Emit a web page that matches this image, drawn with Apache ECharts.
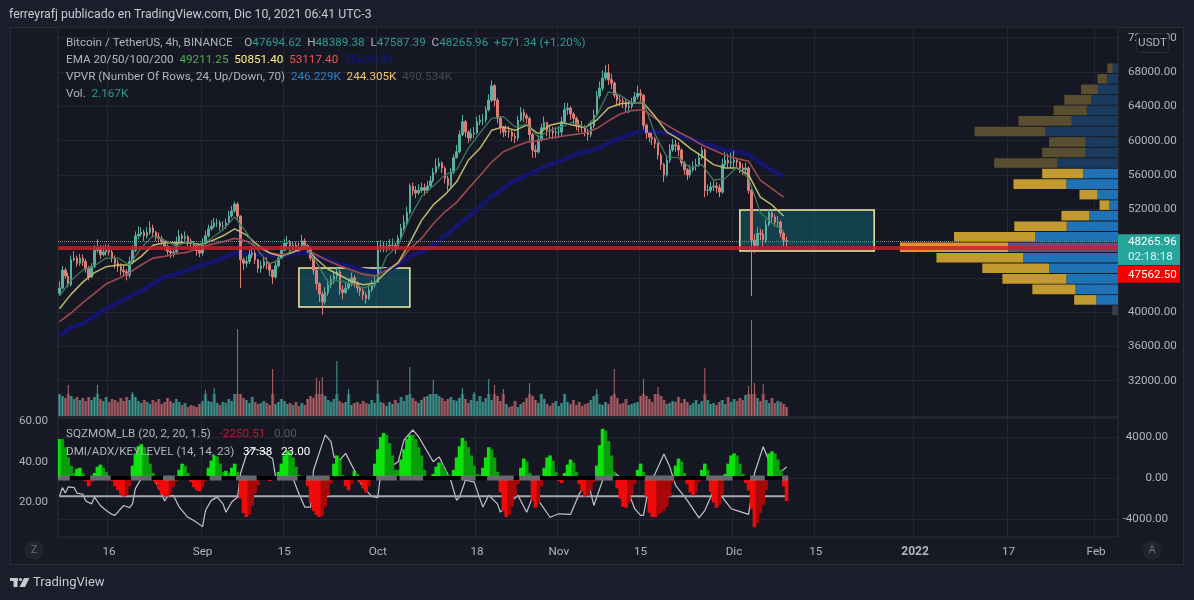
<!DOCTYPE html>
<html><head><meta charset="utf-8">
<style>html,body{margin:0;padding:0;background:#1a1e2b}#c{width:1194px;height:600px;filter:blur(0.35px)}</style>
<script src="https://cdn.jsdelivr.net/npm/echarts@6/dist/echarts.min.js"></script>
</head><body><div id="c"></div>
<script>
const FONT = 'Roboto';
const totalBars = 363;
const startDate = Date.UTC(2021,7,7,12);
const tickLabels = {17:'16',49:'Sep',77:'15',109:'Oct',143:'18',171:'Nov',199:'15',231:'Dic',259:'15',293:'2022',325:'17',355:'Feb'};
const priceTicks = [32000,36000,40000,44000,48000,52000,56000,60000,64000,68000,72000];
const closes = [
42.8,44.9,44.2,43.2,46.1,46.3,45.7,46.3,45.9,45.1,
44.1,45.3,47.2,47.5,46.7,47.0,47.2,47.0,46.3,45.7,
45.3,44.9,44.7,44.3,45.9,47.2,48.9,49.1,49.3,48.9,
49.3,49.8,49.3,48.8,48.6,48.3,47.7,47.1,46.9,47.0,
48.2,48.9,48.6,48.8,48.3,48.0,47.7,47.2,46.9,48.0,
48.9,49.7,50.0,50.4,50.4,50.0,50.0,50.4,51.2,51.8,
52.6,51.2,46.1,45.7,45.9,46.7,46.9,46.1,45.1,45.4,
45.9,45.7,44.9,44.1,45.4,46.3,47.2,48.0,48.1,47.7,
47.8,47.6,47.5,48.3,47.8,47.5,46.3,44.9,43.3,42.1,
41.2,42.3,43.2,43.8,44.2,44.7,42.6,42.3,42.8,43.3,
44.0,43.4,42.8,42.5,42.0,41.6,42.6,43.2,43.5,47.7,
47.7,47.6,47.6,47.8,47.8,47.5,48.6,49.8,50.5,51.6,
54.7,54.2,53.9,54.2,54.5,54.2,54.7,55.3,56.3,57.0,
57.4,56.8,55.6,54.8,56.3,58.0,58.7,60.7,62.2,61.0,
60.3,60.8,60.9,62.2,62.4,62.4,63.6,64.7,66.4,64.7,
62.6,61.5,61.0,61.1,61.0,60.5,60.3,62.4,63.3,62.9,
62.6,60.7,58.9,58.7,60.1,61.5,62.1,61.2,61.1,60.9,
61.0,61.0,62.2,63.6,63.8,63.1,62.6,61.8,61.7,61.6,
61.0,60.7,61.7,63.0,65.2,66.1,67.3,67.9,67.1,66.7,
65.3,64.7,64.6,64.5,63.9,64.0,64.4,65.1,65.5,65.3,
61.8,60.9,60.4,60.2,59.7,58.3,57.2,56.0,57.7,58.9,
59.5,59.4,58.9,57.4,56.6,56.0,56.6,57.0,57.2,58.0,
58.9,54.2,54.2,54.6,54.7,54.5,54.0,57.2,57.7,57.4,
57.5,57.7,57.5,56.8,56.6,56.8,54.2,48.4,47.8,49.2,
49.1,48.4,50.2,51.6,51.1,50.5,50.5,49.2,48.4,48.266];
const highs = [
43.6,45.4,45.2,44.6,46.6,47.1,46.6,46.8,46.7,46.2,
45.4,45.7,47.8,48.5,47.8,47.8,47.9,47.9,47.3,46.6,
46.1,45.7,45.4,45.0,46.5,47.8,49.4,50.0,49.9,49.6,
49.9,50.6,50.2,49.5,49.3,48.9,48.4,47.9,47.5,47.5,
48.8,49.6,49.2,49.4,49.0,48.6,48.3,47.9,47.6,48.6,
49.5,50.2,50.7,51.0,50.9,50.7,50.6,50.9,51.8,52.4,
52.9,52.8,51.3,46.4,46.5,47.3,47.6,47.2,46.2,46.0,
46.5,46.4,45.8,45.0,45.9,46.8,47.8,48.5,48.9,48.4,
48.3,48.2,48.1,49.0,48.6,47.9,47.6,46.4,45.2,43.5,
42.4,42.9,43.8,44.3,44.8,45.3,44.9,43.1,43.4,43.9,
44.6,44.3,43.6,43.1,42.7,42.3,43.2,43.7,44.2,48.3,
48.4,48.2,48.1,48.5,48.6,48.1,49.0,50.3,51.3,52.3,
55.0,55.1,54.7,54.9,55.1,55.0,55.3,55.9,56.8,57.9,
58.0,57.6,57.0,55.9,56.8,58.4,59.5,61.2,63.0,62.4,
61.2,61.4,61.6,62.8,63.0,63.1,64.0,65.4,67.0,66.6,
65.0,62.9,61.7,61.8,61.7,61.3,60.9,62.9,63.9,63.7,
63.2,62.8,60.9,59.5,60.6,62.0,62.8,62.2,61.8,61.6,
61.6,61.7,62.8,64.4,64.4,64.0,63.3,62.8,62.4,62.3,
61.8,61.4,62.3,63.6,65.8,66.9,68.2,68.8,68.9,67.8,
66.9,65.6,65.3,65.0,64.8,64.7,65.0,65.7,66.4,66.0,
65.4,62.0,61.0,60.9,60.4,59.8,58.6,57.4,58.3,59.6,
60.2,60.1,59.8,59.1,57.6,56.8,57.2,57.6,57.9,58.6,
59.3,59.1,54.9,55.2,55.4,55.2,54.9,57.9,58.7,58.5,
58.6,58.8,58.0,57.6,57.3,57.4,57.0,54.4,49.1,49.9,
49.7,49.6,50.8,52.0,52.0,51.4,51.2,50.7,49.4,48.8];
const lows = [
41.9,42.7,43.9,42.9,43.0,45.9,45.3,45.4,45.4,44.6,
43.7,44.0,45.1,46.9,46.2,46.5,46.6,46.6,45.8,45.1,
44.7,44.3,44.1,43.7,44.0,45.6,47.0,48.5,48.8,48.3,
48.6,49.0,48.7,48.3,48.1,47.8,47.2,46.6,46.3,46.4,
46.8,48.0,48.0,48.2,47.7,47.5,47.2,46.6,46.4,46.6,
47.8,48.7,49.5,49.8,49.9,49.5,49.5,49.7,50.2,51.0,
51.6,50.8,42.8,44.9,45.2,45.6,46.3,45.6,44.6,44.6,
45.1,45.0,44.2,43.3,43.9,45.2,46.2,47.1,47.6,47.1,
47.2,47.1,47.0,47.3,47.3,46.9,46.0,44.4,42.6,41.2,
39.7,40.9,41.9,42.8,43.3,43.8,42.0,41.5,42.1,42.6,
43.0,42.9,42.3,41.9,41.4,41.0,41.4,42.3,42.9,43.4,
47.0,47.0,47.0,47.2,47.2,46.8,47.3,48.5,49.5,50.2,
51.4,53.6,53.3,53.7,53.9,53.6,53.9,54.5,55.1,56.1,
56.7,56.2,55.0,54.2,54.5,56.1,57.9,58.5,60.5,60.4,
59.7,60.0,60.3,60.7,61.8,61.8,62.1,63.4,64.5,64.0,
62.0,60.8,60.4,60.5,60.3,59.9,59.7,60.0,62.2,62.2,
62.0,60.0,58.0,58.0,58.5,59.9,61.3,60.5,60.3,60.2,
60.2,60.3,60.5,62.0,63.0,62.4,61.9,61.2,61.0,61.0,
60.5,60.0,60.4,61.4,62.8,64.9,65.8,67.0,66.5,66.0,
65.0,64.0,64.0,63.8,63.3,63.2,63.7,64.3,64.8,64.6,
61.3,60.2,59.8,59.5,59.1,57.8,56.6,55.2,55.8,57.4,
58.7,58.7,58.2,57.0,56.0,55.4,55.7,56.3,56.5,57.0,
57.8,53.4,53.6,53.9,54.1,53.9,53.4,53.8,56.9,56.8,
56.8,56.9,56.9,56.2,56.0,56.1,53.8,41.9,46.9,47.4,
48.4,47.6,48.1,50.0,50.5,50.0,49.9,48.7,47.7,47.6];
const firstOpen = 42.2;
const volumes = [
2.2,2.0,1.8,3.1,2.0,1.7,1.9,1.6,1.8,1.5,
1.9,1.6,1.9,3.1,1.7,1.5,1.9,1.4,1.7,1.6,
1.4,1.8,1.5,1.9,1.6,2.4,1.9,1.5,1.3,1.6,
1.4,1.2,1.6,1.4,1.7,1.2,1.4,1.8,1.5,1.3,
1.7,1.4,1.1,1.3,0.9,1.1,1.0,0.9,1.2,1.5,
2.6,1.5,1.4,2.8,1.3,1.1,1.4,1.3,1.7,1.5,
2.2,8.7,2.2,1.8,1.6,1.3,1.9,1.4,1.2,1.3,
1.5,1.3,1.1,4.7,1.2,1.4,1.7,1.5,1.2,1.3,
1.1,1.4,1.0,1.3,1.1,1.7,2.0,1.8,3.8,3.5,
3.9,2.0,1.6,1.4,1.7,5.5,1.5,1.3,1.4,2.7,
1.1,1.3,1.4,1.2,1.5,1.3,1.2,1.6,1.3,3.6,
1.4,1.3,1.0,1.4,1.2,1.6,1.3,1.9,1.5,2.1,
4.9,1.8,1.5,1.3,1.6,1.9,2.0,2.2,3.6,2.2,
2.0,1.8,1.5,1.7,1.9,1.6,1.5,1.8,2.8,1.7,
1.3,1.6,2.4,1.5,2.0,1.4,1.8,3.7,1.6,3.1,
2.0,1.5,2.7,1.2,0.9,1.0,1.5,0.9,1.2,1.4,
1.8,3.3,2.0,1.6,1.3,2.2,1.7,1.2,1.0,1.3,
1.5,1.0,1.3,2.2,1.4,1.2,1.6,1.1,1.4,1.0,
1.2,1.3,1.6,2.0,2.7,1.2,1.1,1.4,1.2,2.0,
4.7,1.8,1.2,1.3,1.7,1.1,1.2,1.3,1.4,2.0,
3.7,2.0,1.7,1.4,2.2,2.9,2.0,1.6,1.2,1.3,
1.5,1.4,1.9,1.3,1.7,1.4,1.1,1.3,1.6,1.2,
1.5,4.8,1.6,1.2,1.3,1.1,1.4,1.6,1.2,1.9,
1.4,1.7,1.5,1.8,1.6,2.1,3.0,9.6,3.3,1.8,
1.5,3.2,1.6,1.3,1.8,1.3,1.5,1.4,1.2,0.9];
const ema20 = [41.9,43.7,44.9,45.4,46.3,46.3,45.5,47.5,48.9,48.4,47.7,48.2,47.7,48.6,49.6,51.1,49.3,47.2,45.6,46.3,47.4,47.7,45.8,43.5,43.7,43.3,42.8,43.3,46.5,47.8,51.0,53.5,54.7,56.0,56.6,59.1,60.9,62.6,62.8,61.6,61.9,60.4,61.2,61.6,62.2,61.5,62.9,65.7,65.3,64.4,64.5,60.7,58.1,58.0,56.8,57.2,55.4,55.6,56.9,55.6,51.6,50.4,49.5];
const ema50 = [40.4,42.1,43.5,44.6,45.3,45.5,45.5,46.5,47.8,48.1,48.1,48.1,47.9,48.3,48.9,49.7,49.0,47.8,46.9,46.5,47.0,47.6,46.2,45.0,44.3,43.6,43.2,43.4,44.7,45.8,48.1,50.7,52.5,53.7,55.2,57.7,59.1,61.2,61.6,61.2,61.8,60.8,61.8,62.1,61.8,61.5,62.4,63.8,64.3,64.4,64.4,62.8,61.0,60.2,59.1,58.2,57.2,56.8,56.8,56.0,53.4,52.5,51.2];
const ema100 = [38.9,39.9,41.1,42.2,43.3,43.9,44.6,45.5,46.3,46.5,46.8,47.0,47.5,47.9,48.2,48.6,48.3,47.5,46.9,46.7,47.0,47.4,46.7,46.0,45.4,44.9,44.4,44.2,44.9,45.7,47.4,48.6,50.3,51.7,52.8,54.4,55.9,57.5,58.7,59.3,59.8,60.0,60.3,60.5,60.7,60.9,61.4,62.3,63.1,63.5,63.6,62.6,61.8,61.0,60.3,59.5,58.9,58.3,57.9,57.6,55.4,54.4,53.4];
const ema200 = [37.3,38.2,38.7,39.5,40.4,41.1,41.8,42.5,43.3,44.1,44.4,44.9,45.4,45.8,46.3,46.9,46.8,46.7,46.7,46.5,46.8,46.9,46.5,46.1,45.6,45.3,44.9,44.7,44.9,45.5,46.5,47.0,47.8,48.9,50.0,51.1,52.3,53.5,54.5,55.3,56.0,56.6,57.2,57.7,58.3,58.7,59.0,59.7,60.3,60.8,61.1,61.0,60.9,60.7,60.2,59.7,59.3,58.9,58.7,58.4,57.4,56.5,55.9];
const emaStepBars = 4;
const vpPrices = [68430,67200,65970,64740,63510,62280,61050,59820,58600,57370,56140,54910,53680,52450,51220,50000,48770,47540,46310,45080,43850,42620,41400,40170];
const vpUp = [1.3,2.6,4.9,6.5,7.6,11.3,17.7,7.9,7.9,14.8,8.5,12.6,5.0,2.1,7.0,12.5,20.2,26.8,23.1,16.8,12.6,10.4,5.3,1.4];
const vpDown = [1.3,2.4,4.1,6.6,8.1,13.0,17.3,8.9,10.6,15.4,10.0,12.9,4.4,2.4,6.8,12.8,19.8,26.4,21.2,16.3,15.6,10.5,5.4,0];
const momentum = [
38,38,30,20,12,5,9,10,5,-3,
-8,-4,5,11,13,10,6,2,-3,-8,
-12,-16,-18,-17,-8,12,24,31,33,30,
24,14,5,-5,-11,-16,-18,-18,-15,-9,
-3,8,14,12,5,-4,-9,-12,-13,-9,
-3,10,17,22,21,14,6,7,5,10,
14,6,-20,-34,-38,-36,-27,-15,-7,-2,
1,1,-3,-2,2,6,14,22,27,26,
20,11,3,0,-2,-8,-24,-32,-36,-38,
-37,-28,-17,-5,14,22,18,3,-8,-12,
-6,7,4,-5,-10,-14,-8,-2,14,28,
40,44,42,34,22,8,8,18,28,38,
42,42,38,30,22,8,2,1,4,11,
15,13,8,3,1,8,20,31,39,36,
30,22,12,4,3,10,20,30,28,20,
6,-14,-32,-38,-36,-28,-18,-6,10,19,
16,5,-22,-29,-24,-8,10,20,22,17,
6,-3,-5,5,13,18,15,6,-6,-13,
-18,-17,-12,-4,12,32,48,46,36,22,
6,-10,-20,-28,-29,-24,-16,-6,8,14,
6,-18,-34,-38,-38,-35,-34,-32,-28,-18,
-4,12,19,16,5,-6,-14,-17,-14,-4,
8,14,8,-14,-24,-29,-26,-16,4,14,
22,24,22,14,4,-5,-12,-30,-48,-44,
-34,-26,-12,24,26,24,18,8,-8,-22.5];
const squeezeRanges = [[0,3],[11,17],[25,31],[36,39],[52,55],[61,67],[75,81],[85,92],[109,115],[117,124],[138,142],[147,155],[158,164],[184,189],[201,210],[222,230],[237,241],[248,249]];
const adxBars = [0,1,2,3,5,6,8,9,11,12,14,16,18,19,21,22,24,25,26,28,30,31,32,34,36,37,39,41,44,46,49,50,52,54,56,57,59,61,62,64,66,70,72,73,74,77,80,82,84,86,87,91,93,94,96,98,101,102,105,107,109,110,116,118,121,123,126,128,130,134,136,137,139,142,145,147,150,151,157,160,162,164,168,171,175,178,181,183,186,187,192,195,197,199,200,202,204,207,209,211,215,219,221,224,227,230,232,236,238,241,244,247,249];
const adxVals = [23.0,27.3,24.6,27.6,27.3,24.6,24.0,20.7,19.3,22.6,18.5,16.0,14.1,13.6,16.9,18.5,17.4,19.3,26.8,31.7,37.5,35.0,31.7,27.9,20.7,23.0,23.5,17.7,12.7,11.1,8.1,16.0,21.0,22.6,19.3,15.2,20.2,22.6,34.2,43.3,46.6,44.9,42.4,41.6,32.5,31.7,31.7,24.3,17.7,17.7,35.8,53.2,49.9,42.4,40.8,44.1,35.8,31.7,25.9,23.0,22.3,34.2,40.0,50.7,55.6,52.3,44.9,40.0,42.4,30.9,21.0,22.6,30.9,30.1,17.7,23.5,19.3,15.2,23.5,15.2,22.6,21.0,12.7,14.4,14.1,24.3,30.1,18.5,30.9,37.5,32.5,24.3,16.9,13.6,13.6,29.2,34.2,43.8,37.5,28.4,21.0,12.4,16.0,25.9,22.6,16.9,16.0,14.1,34.2,47.4,36.7,35.0,37.38];
const keyLevel = 23;
const lastPrice = 48265.96;
const redLevel = 47562.5;
const volBaseCap = 2.2;
const demandZones = [{from:82,to:120,top:45143,bottom:40595},{from:233,to:279,top:51900,bottom:47120}];

const categories = Array.from({length:totalBars},(_,i)=>new Date(startDate+i*43200000).toISOString().slice(0,13));
const opens = closes.map((c,i)=>i===0?firstOpen:closes[i-1]);
const candleData = closes.map((c,i)=>[opens[i]*1000,c*1000,lows[i]*1000,highs[i]*1000]);
const isTick = i => tickLabels[i]!==undefined;
const emaLine = arr => arr.map((v,k)=>[k*emaStepBars,v*1000]);
const grid0 = '#232735', txt = '#b2b5be';
const catAxis = (gridIndex,labels,extra) => Object.assign({
  type:'category',gridIndex,data:categories,boundaryGap:true,
  axisLine:{show:false},axisTick:{show:false},
  splitLine:{show:gridIndex!==1,interval:(i)=>isTick(i),lineStyle:{color:grid0,width:1}},
  axisLabel:{show:labels,interval:(i)=>isTick(i),margin:9,color:txt,fontFamily:FONT,fontSize:11.7,
    formatter:(v,i)=>tickLabels[i]==='2022'?'{b|2022}':(tickLabels[i]||''),rich:{b:{fontWeight:'bold',color:txt,fontFamily:FONT,fontSize:12}}}
},extra||{});
const rowDim = i => i < 10;
const vpUpColor = i => i===23?'#3a3f4a':i===17?'#6a4a80':rowDim(i)?'#1b3b5e':'#1f72b5';
const vpDownColor = i => i===17?'#e8902f':rowDim(i)?'#5a4e30':'#c29a30';
const chart = echarts.init(document.getElementById('c'),null,{renderer:'canvas'});
const LS = 11.7;
const leg = {
  g:{color:txt,fontFamily:FONT,fontSize:LS,lineHeight:14},
  t:{color:'#2f9c8e',fontFamily:FONT,fontSize:LS,lineHeight:14},
  e1:{color:'#4caf50',fontFamily:FONT,fontSize:LS},e2:{color:'#fff176',fontFamily:FONT,fontSize:LS},
  e3:{color:'#ef5350',fontFamily:FONT,fontSize:LS},e4:{color:'#10188c',fontFamily:FONT,fontSize:LS},
  v1:{color:'#2b80cc',fontFamily:FONT,fontSize:LS},v2:{color:'#f5c66b',fontFamily:FONT,fontSize:LS},
  v3:{color:'#45484f',fontFamily:FONT,fontSize:LS},
  r:{color:'#b3202a',fontFamily:FONT,fontSize:LS},d:{color:'#555862',fontFamily:FONT,fontSize:LS},
  w:{color:'#ffffff',fontFamily:FONT,fontSize:LS}
};
const mkTitle = (text,left,top)=>({text,left,top,padding:0,textStyle:{rich:leg,fontFamily:FONT,fontSize:LS,color:txt,fontWeight:'normal'}});
const priceLabel = {color:txt,fontFamily:FONT,fontSize:11.6,padding:[2,0,0,0],formatter:v=>v.toFixed(2)};
chart.setOption({
  animation:false,
  backgroundColor:'#1a1e2b',
  title:[
    {text:'ferreyrafj publicado en TradingView.com, Dic 10, 2021 06:41 UTC-3',left:9,top:9,padding:0,textStyle:{color:'#c8cad2',fontFamily:FONT,fontSize:12.3,fontWeight:'normal'}},
    mkTitle('{g|Bitcoin / TetherUS, 4h, BINANCE    O}{t|47694.62}{g|  H}{t|48389.38}{g|  L}{t|47587.39}{g|  C}{t|48265.96}{t|  +571.34 (+1.20%)}',66,36),
    mkTitle('{g|EMA 20/50/100/200}{e1|  49211.25}{e2|  50851.40}{e3|  53117.40}{e4|  55628.88}',66,53),
    mkTitle('{g|VPVR (Number Of Rows, 24, Up/Down, 70)}{v1|  246.229K}{v2|  244.305K}{v3|  490.534K}',66,70),
    mkTitle('{g|Vol.}{t|  2.167K}',66,87),
    mkTitle('{g|SQZMOM_LB (20, 2, 20, 1.5)}{r|   -2250.51}{d|   0.00}',66,427),
    mkTitle('{g|DMI/ADX/KEYLEVEL (14, 14, 23)}{w|   37.38}{w|   23.00}',66,445)
  ],
  grid:[
    {left:58,width:1060,top:27,height:390,show:true,backgroundColor:'#151823',borderColor:'#2a2e39',borderWidth:1},
    {left:58,width:1060,top:317,height:99},
    {left:58,width:1060,top:63,height:252.7},
    {left:58,width:1060,top:418,height:119,show:true,backgroundColor:'#151823',borderColor:'#2a2e39',borderWidth:1}
  ],
  xAxis:[
    catAxis(0,false),
    catAxis(1,false),
    {type:'value',gridIndex:2,inverse:true,min:0,max:258.6,show:false},
    catAxis(3,true),
    catAxis(1,false,{position:'top'})
  ],
  yAxis:[
    {type:'value',gridIndex:0,position:'right',min:27773,max:73247,
      axisLine:{show:false},axisTick:{show:false,customValues:priceTicks},
      axisLabel:Object.assign({customValues:priceTicks,margin:10},priceLabel),
      splitLine:{show:true,lineStyle:{color:grid0}}},
    {type:'value',gridIndex:1,min:0,max:9.9,show:false,splitLine:{show:false}},
    {type:'category',gridIndex:2,inverse:true,data:vpPrices.map(String),show:false},
    {type:'value',gridIndex:3,position:'left',min:3,max:61.5,
      axisLine:{show:false},axisTick:{show:false,customValues:[20,40,60]},
      axisLabel:Object.assign({customValues:[20,40,60],margin:10},priceLabel),
      splitLine:{show:false}},
    {type:'value',gridIndex:3,position:'right',min:-5750,max:5850,
      axisLine:{show:false},axisTick:{show:false,customValues:[-4000,0,4000]},
      axisLabel:Object.assign({customValues:[-4000,0,4000],margin:50,align:'right'},priceLabel),
      splitLine:{show:true,lineStyle:{color:grid0}}}
  ],
  series:[
    {name:'VPVR up',type:'bar',xAxisIndex:2,yAxisIndex:2,stack:'vp',barWidth:9.6,z:2,silent:true,
      data:vpUp.map((v,i)=>({value:v,itemStyle:{color:vpUpColor(i)}}))},
    {name:'VPVR down',type:'bar',xAxisIndex:2,yAxisIndex:2,stack:'vp',barWidth:9.6,z:2,silent:true,
      data:vpDown.map((v,i)=>({value:v,itemStyle:{color:vpDownColor(i)}}))},
    {name:'Zones',type:'line',xAxisIndex:0,yAxisIndex:0,data:[],z:2,silent:true,
      markArea:{silent:true,itemStyle:{color:'rgba(20,150,170,0.32)',borderColor:'#f2ee9c',borderWidth:1.5},
        data:demandZones.map(z=>[{xAxis:z.from,yAxis:z.top},{xAxis:z.to,yAxis:z.bottom}])}},
    {name:'Vol',type:'bar',xAxisIndex:1,yAxisIndex:1,barWidth:3.4,z:2,silent:true,
      data:volumes.map((v,i)=>({value:Math.min(v,volBaseCap),itemStyle:{color:closes[i]>=opens[i]?'#2a6664':'#74404a'}}))},
    {name:'Vol spikes',type:'bar',xAxisIndex:4,yAxisIndex:1,barWidth:1,z:2,silent:true,
      data:volumes.map((v,i)=>({value:v,itemStyle:{color:closes[i]>=opens[i]?'#4a9a95':'#b0666c'}}))},
    {name:'EMA200',type:'line',xAxisIndex:0,yAxisIndex:0,z:2,showSymbol:false,silent:true,lineStyle:{color:'#14166e',width:4.5},data:emaLine(ema200)},
    {name:'BTC',type:'candlestick',xAxisIndex:0,yAxisIndex:0,barWidth:2,z:3,silent:true,
      itemStyle:{color:'#5aaea0',color0:'#dd7f78',borderColor:'#5aaea0',borderColor0:'#dd7f78',borderWidth:1},
      data:candleData},
    {name:'EMA100',type:'line',xAxisIndex:0,yAxisIndex:0,z:4,showSymbol:false,silent:true,lineStyle:{color:'#9c4a4c',width:1.6},data:emaLine(ema100)},
    {name:'EMA50',type:'line',xAxisIndex:0,yAxisIndex:0,z:4,showSymbol:false,silent:true,lineStyle:{color:'#bdb868',width:1.5},data:emaLine(ema50)},
    {name:'EMA20',type:'line',xAxisIndex:0,yAxisIndex:0,z:4,showSymbol:false,silent:true,lineStyle:{color:'#3f8060',width:1.2},data:emaLine(ema20)},
    {name:'Levels',type:'line',xAxisIndex:0,yAxisIndex:0,data:[],z:5,silent:true,
      markLine:{silent:true,symbol:'none',label:{show:false},data:[
        {yAxis:redLevel,lineStyle:{color:'#c8202a',width:4,type:'solid',opacity:0.82}},
        {yAxis:lastPrice,lineStyle:{color:'#8a8d96',width:1,type:'dotted'}}
      ]}},
    {name:'ADX',type:'line',xAxisIndex:3,yAxisIndex:3,z:2,showSymbol:false,silent:true,lineStyle:{color:'#c2c4ca',width:1.2},
      data:adxBars.map((b,i)=>[b,adxVals[i]])},
    {name:'KeyLevel',type:'line',xAxisIndex:3,yAxisIndex:3,z:2,showSymbol:false,silent:true,lineStyle:{color:'#a8aab2',width:2},
      data:[[0,keyLevel],[closes.length-1,keyLevel]]},
    {name:'Momentum',type:'bar',xAxisIndex:3,yAxisIndex:4,barWidth:3.6,z:4,silent:true,
      data:momentum.map((v,i)=>{
        const p=i?momentum[i-1]:0, up=v>p;
        return {value:v*100,itemStyle:{color:v>=0?(up?'#0ce30c':'#0a9e0a'):(up?'#a80808':'#f00a0a')}};
      })},
    {name:'Zero',type:'line',xAxisIndex:3,yAxisIndex:4,z:5,showSymbol:false,silent:true,lineStyle:{color:'#000000',width:4},
      data:[[0,0],[closes.length-1,0]]},
    {name:'Squeeze',type:'scatter',xAxisIndex:3,yAxisIndex:4,z:6,silent:true,symbol:'rect',symbolSize:[3.2,5],itemStyle:{color:'#7f8288'},
      data:squeezeRanges.flatMap(([a,b])=>Array.from({length:b-a+1},(_,k)=>[a+k,0]))}
  ]
});
const yLast = chart.convertToPixel({yAxisIndex:0},lastPrice);
const boxTop = yLast-7, boxH = 31;
chart.setOption({graphic:[
  {type:'rect',z:-1,silent:true,shape:{x:10.5,y:27.5,width:1173,height:537},style:{fill:'#161a25',stroke:'#2a2e39',lineWidth:1}},
  {type:'rect',z:50,silent:true,shape:{x:1118,y:boxTop,width:62,height:boxH},style:{fill:'#26a69a'}},
  {type:'text',z:51,silent:true,style:{x:1128,y:yLast+1,text:lastPrice.toFixed(2),fill:'#ffffff',font:'11.6px '+FONT,textVerticalAlign:'middle'}},
  {type:'text',z:51,silent:true,style:{x:1128,y:yLast+16,text:'02:18:18',fill:'#dff5f2',font:'11.6px '+FONT,textVerticalAlign:'middle'}},
  {type:'rect',z:50,silent:true,shape:{x:1118,y:boxTop+boxH+0.5,width:62,height:17},style:{fill:'#f80000'}},
  {type:'text',z:51,silent:true,style:{x:1128,y:boxTop+boxH+9.5,text:redLevel.toFixed(2),fill:'#ffffff',font:'11.6px '+FONT,textVerticalAlign:'middle'}},
  {type:'rect',z:50,silent:true,shape:{x:1136.5,y:33.5,width:32,height:19,r:3},style:{fill:'#161a25',stroke:'#2a2e39',lineWidth:1}},
  {type:'text',z:51,silent:true,style:{x:1152.5,y:43,text:'USDT',fill:txt,font:'11.6px '+FONT,textAlign:'center',textVerticalAlign:'middle'}},
  {type:'circle',z:10,silent:true,shape:{cx:34,cy:550,r:10},style:{fill:'#20242f'}},
  {type:'text',z:11,silent:true,style:{x:34,y:550,text:'Z',fill:'#6d7079',font:'11px '+FONT,textAlign:'center',textVerticalAlign:'middle'}},
  {type:'circle',z:10,silent:true,shape:{cx:1152,cy:550,r:10},style:{fill:'#20242f'}},
  {type:'text',z:11,silent:true,style:{x:1152,y:550,text:'A',fill:'#6d7079',font:'11px '+FONT,textAlign:'center',textVerticalAlign:'middle'}},
  {type:'rect',z:10,silent:true,shape:{x:10,y:578,width:8,height:3},style:{fill:'#c8cad2'}},
  {type:'rect',z:10,silent:true,shape:{x:13.5,y:578,width:4,height:9},style:{fill:'#c8cad2'}},
  {type:'circle',z:10,silent:true,shape:{cx:20.5,cy:579.5,r:1.6},style:{fill:'#c8cad2'}},
  {type:'polygon',z:10,silent:true,shape:{points:[[24,578],[29.5,578],[25,587],[19.5,587]]},style:{fill:'#c8cad2'}},
  {type:'text',z:10,silent:true,style:{x:33,y:583,text:'TradingView',fill:'#c8cad2',font:'13px '+FONT,textVerticalAlign:'middle'}}
]});
</script></body></html>
